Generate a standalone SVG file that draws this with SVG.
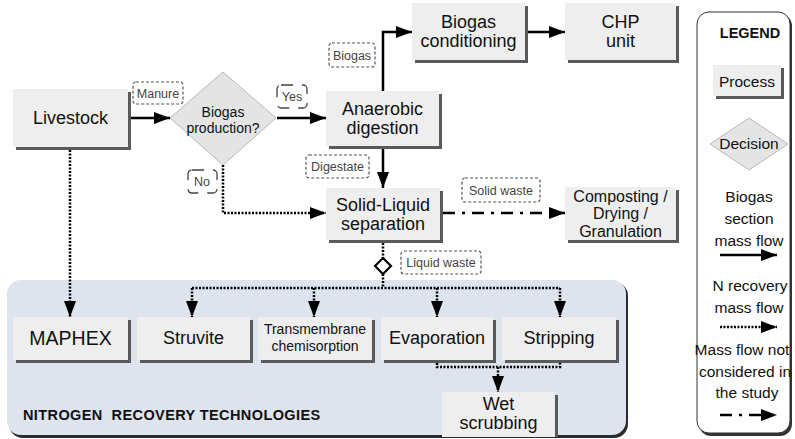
<svg xmlns="http://www.w3.org/2000/svg" width="795" height="439" viewBox="0 0 795 439">
  <defs>
    <marker id="arr" markerUnits="userSpaceOnUse" markerWidth="17" markerHeight="13" refX="16" refY="6" orient="auto">
      <path d="M0,0 L16,6 L0,12 z" fill="#000"/>
    </marker>
    <style>
      .box { fill: #eeeeee; }
      .shd { fill: #5a5a5a; }
      .dia { fill: #e4e4e4; stroke: #b8b8b8; stroke-width: 1; }
      .t { font-family: "Liberation Sans", Arial, sans-serif; fill: #111; text-anchor: middle; }
      .big { font-size: 18px; }
      .mid { font-size: 15.5px; }
      .sm { font-size: 14px; }
      .lbl { fill: #fff; stroke: #555; stroke-width: 1.2; stroke-dasharray: 3 2; }
      .lblq { fill: #fff; stroke: #444; stroke-width: 1.3; stroke-dasharray: 12 9; }
      .lt { font-family: "Liberation Sans", Arial, sans-serif; font-size: 12.5px; fill: #444; text-anchor: middle; }
      .solid { fill: none; stroke: #000; stroke-width: 2.5; }
      .dot { fill: none; stroke: #000; stroke-width: 2.5; stroke-dasharray: 2 1.5; }
      .dd { fill: none; stroke: #000; stroke-width: 2.5; stroke-dasharray: 12 7 3 7; }
    </style>
  </defs>

  <!-- nitrogen recovery panel -->
  <g id="nr-panel">
    <rect x="9" y="282" width="619" height="156" rx="14" fill="#2b2b2b"/>
    <rect x="7" y="280" width="619" height="155" rx="14" fill="#dde4ee"/>
    <text x="23" y="420" font-family="Liberation Sans, Arial, sans-serif" font-size="14.5px" font-weight="bold" letter-spacing="0.4" fill="#111" xml:space="preserve">NITROGEN  RECOVERY TECHNOLOGIES</text>
  </g>

  <!-- legend -->
  <g id="legend">
    <rect x="699" y="14" width="93" height="422" rx="12" fill="#333"/>
    <rect x="697" y="12" width="93" height="421" rx="12" fill="#fff" stroke="#333" stroke-width="1"/>
    <text class="t" x="750" y="38" font-size="14.5px" font-weight="bold">LEGEND</text>
    <rect class="shd" x="716" y="68" width="68" height="31"/>
    <rect class="box" x="713" y="65" width="68" height="31"/>
    <text class="t mid" x="747" y="87">Process</text>
    <polygon class="dia" points="749,118 788,144 749,170 710,144"/>
    <text class="t mid" x="749" y="149">Decision</text>
    <text class="t mid" x="749" y="202">Biogas</text>
    <text class="t mid" x="749" y="224">section</text>
    <text class="t mid" x="749" y="246">mass flow</text>
    <path class="solid" d="M720,255 H777" marker-end="url(#arr)"/>
    <text class="t mid" x="750" y="291">N recovery</text>
    <text class="t mid" x="749" y="313">mass flow</text>
    <path class="dot" d="M720,327 H777" marker-end="url(#arr)"/>
    <text class="t mid" x="742" y="355">Mass flow not</text>
    <text class="t mid" x="745" y="377">considered in</text>
    <text class="t mid" x="747" y="398">the study</text>
    <path class="dd" d="M720,415 H777" marker-end="url(#arr)"/>
  </g>

  <!-- connectors -->
  <g id="connectors">
    <path class="solid" d="M131,118 H170" marker-end="url(#arr)"/>
    <path class="solid" d="M277,118 H326" marker-end="url(#arr)"/>
    <path class="solid" d="M383,91 V32 H412" marker-end="url(#arr)"/>
    <path class="solid" d="M528,32 H565" marker-end="url(#arr)"/>
    <path class="solid" d="M383,149 V188" marker-end="url(#arr)"/>
    <path class="dot" d="M223,165 V213 H326" marker-end="url(#arr)"/>
    <path class="dd" d="M443,213 H565" marker-end="url(#arr)"/>
    <path class="dot" d="M70,150 V317" marker-end="url(#arr)"/>
    <path class="dot" d="M383,243 V258"/>
    <path class="dot" d="M383,274 V288"/>
    <path class="dot" d="M192,288 H560"/>
    <path class="dot" d="M192,288 V317" marker-end="url(#arr)"/>
    <path class="dot" d="M314,288 V317" marker-end="url(#arr)"/>
    <path class="dot" d="M437,288 V317" marker-end="url(#arr)"/>
    <path class="dot" d="M560,288 V317" marker-end="url(#arr)"/>
    <path class="dot" d="M437,363 V367 H560 V363"/>
    <path class="dot" d="M498,367 V392" marker-end="url(#arr)"/>
    <polygon points="383,258 391,266 383,274 375,266" fill="#fff" stroke="#000" stroke-width="2.2"/>
  </g>

  <!-- flow labels -->
  <g id="labels">
    <rect class="lbl" x="133" y="82" width="50" height="22" rx="3"/>
    <text class="lt" x="158" y="98">Manure</text>
    <rect class="lblq" x="277" y="85" width="30" height="23" rx="4"/>
    <text class="lt" x="292" y="101">Yes</text>
    <rect class="lblq" x="188" y="170" width="29" height="23" rx="4"/>
    <text class="lt" x="202" y="186">No</text>
    <rect class="lbl" x="329" y="43" width="46" height="24" rx="3"/>
    <text class="lt" x="352" y="60">Biogas</text>
    <rect class="lbl" x="306" y="155" width="63" height="23" rx="3"/>
    <text class="lt" x="337.5" y="171">Digestate</text>
    <rect class="lbl" x="462" y="178" width="78" height="24" rx="3"/>
    <text class="lt" x="501" y="195">Solid waste</text>
    <rect class="lbl" x="401" y="251" width="80" height="23" rx="3"/>
    <text class="lt" x="441" y="267">Liquid waste</text>
  </g>

  <!-- nodes -->
  <g id="livestock">
    <rect class="shd" x="16" y="92" width="115" height="58"/>
    <rect class="box" x="13" y="89" width="115" height="58"/>
    <text class="t big" x="70.5" y="124">Livestock</text>
  </g>
  <g id="biogas-production">
    <polygon class="dia" points="223,72 276,118 223,165 170,118"/>
    <text class="t" x="223" y="117" font-size="14px">Biogas</text>
    <text class="t" x="223" y="133" font-size="14px">production?</text>
  </g>
  <g id="anaerobic-digestion">
    <rect class="shd" x="329" y="94" width="113" height="55"/>
    <rect class="box" x="326" y="91" width="113" height="55"/>
    <text class="t big" x="382.5" y="115">Anaerobic</text>
    <text class="t big" x="382.5" y="134">digestion</text>
  </g>
  <g id="biogas-conditioning">
    <rect class="shd" x="415" y="6" width="113" height="57"/>
    <rect class="box" x="412" y="3" width="113" height="57"/>
    <text class="t big" x="468.5" y="28">Biogas</text>
    <text class="t big" x="468.5" y="47">conditioning</text>
  </g>
  <g id="chp-unit">
    <rect class="shd" x="568" y="6" width="111" height="57"/>
    <rect class="box" x="565" y="3" width="111" height="57"/>
    <text class="t big" x="620.5" y="28">CHP</text>
    <text class="t big" x="620.5" y="47">unit</text>
  </g>
  <g id="solid-liquid-separation">
    <rect class="shd" x="329" y="191" width="114" height="52"/>
    <rect class="box" x="326" y="188" width="114" height="52"/>
    <text class="t big" x="383" y="211">Solid-Liquid</text>
    <text class="t big" x="383" y="230">separation</text>
  </g>
  <g id="composting">
    <rect class="shd" x="568" y="190" width="111" height="53"/>
    <rect class="box" x="565" y="187" width="111" height="53"/>
    <text class="t" x="620.5" y="202" font-size="16px">Composting /</text>
    <text class="t" x="620.5" y="219" font-size="16px">Drying /</text>
    <text class="t" x="620.5" y="237" font-size="16px">Granulation</text>
  </g>
  <g id="maphex">
    <rect class="shd" x="16" y="320" width="115" height="43"/>
    <rect class="box" x="13" y="317" width="115" height="43"/>
    <text class="t" x="70.5" y="345" font-size="19.5px">MAPHEX</text>
  </g>
  <g id="struvite">
    <rect class="shd" x="140" y="320" width="113" height="43"/>
    <rect class="box" x="137" y="317" width="113" height="43"/>
    <text class="t big" x="193.5" y="344">Struvite</text>
  </g>
  <g id="transmembrane">
    <rect class="shd" x="261" y="320" width="114" height="43"/>
    <rect class="box" x="258" y="317" width="114" height="43"/>
    <text class="t sm" x="315" y="334">Transmembrane</text>
    <text class="t sm" x="315" y="351">chemisorption</text>
  </g>
  <g id="evaporation">
    <rect class="shd" x="384" y="320" width="112" height="43"/>
    <rect class="box" x="381" y="317" width="112" height="43"/>
    <text class="t big" x="437" y="344">Evaporation</text>
  </g>
  <g id="stripping">
    <rect class="shd" x="505" y="320" width="114" height="43"/>
    <rect class="box" x="502" y="317" width="114" height="43"/>
    <text class="t big" x="559" y="344">Stripping</text>
  </g>
  <g id="wet-scrubbing">
    <rect class="shd" x="445" y="395" width="113" height="42"/>
    <rect class="box" x="442" y="392" width="113" height="45"/>
    <text class="t big" x="498.5" y="410">Wet</text>
    <text class="t big" x="498.5" y="429">scrubbing</text>
  </g>
</svg>
